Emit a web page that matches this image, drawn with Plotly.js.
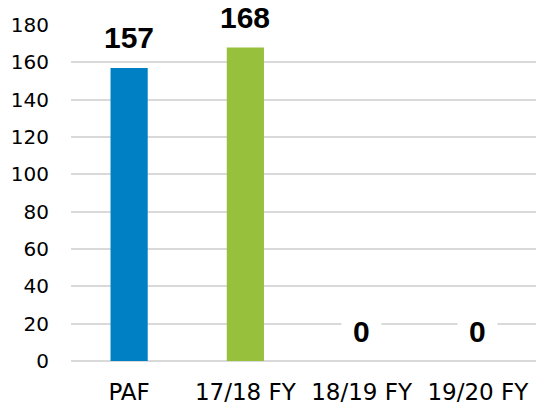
<!DOCTYPE html>
<html>
<head>
<meta charset="utf-8">
<script src="https://cdn.plot.ly/plotly-3.0.1.min.js"></script>
<style>html,body{margin:0;padding:0;background:#fff;}#chart{width:536px;height:410px;}</style>
</head>
<body>
<div id="chart"></div>
<script>
const categories = ["PAF", "17/18 FY", "18/19 FY", "19/20 FY"];
const values = [157, 168, 0, 0];
const barColors = ["#0080C4", "#97C13C", "#BFBFBF", "#BFBFBF"];
const yTicks = [0, 20, 40, 60, 80, 100, 120, 140, 160, 180];

const trace = {
  type: "bar",
  x: categories,
  y: values,
  marker: { color: barColors },
  hoverinfo: "skip"
};

const labelSize = 30;
const annotations = categories.map((c, i) => ({
  x: c, y: values[i], xref: "x", yref: "y",
  text: "<b>" + values[i] + "</b>",
  showarrow: false,
  yanchor: "middle",
  yshift: 30,
  width: String(values[i]).length * labelSize * 0.556 + 20,
  bgcolor: "#ffffff",
  borderpad: 1,
  font: { family: "Liberation Sans, Arial, sans-serif", size: labelSize, color: "#000000" }
}));

const layout = {
  width: 536, height: 410,
  margin: { l: 71, r: 0, t: 25, b: 49 },
  paper_bgcolor: "#ffffff",
  plot_bgcolor: "#ffffff",
  showlegend: false,
  bargap: 0.68,
  xaxis: {
    type: "category",
    range: [-0.5, 3.5],
    showgrid: false,
    showline: false,
    zeroline: false,
    ticks: "",
    ticklabelstandoff: 15,
    tickfont: { family: "DejaVu Sans, sans-serif", size: 23, color: "#000000" }
  },
  yaxis: {
    range: [0, 180],
    tickvals: yTicks,
    ticktext: yTicks.map(String),
    showgrid: true,
    gridcolor: "#D9D9D9",
    gridwidth: 2,
    zeroline: true,
    zerolinecolor: "#D9D9D9",
    zerolinewidth: 2,
    showline: false,
    ticks: "",
    ticklabelstandoff: 21,
    tickfont: { family: "DejaVu Sans, sans-serif", size: 20, color: "#000000" }
  },
  annotations: annotations
};

Plotly.newPlot("chart", [trace], layout, { staticPlot: true, displayModeBar: false });
</script>
</body>
</html>
